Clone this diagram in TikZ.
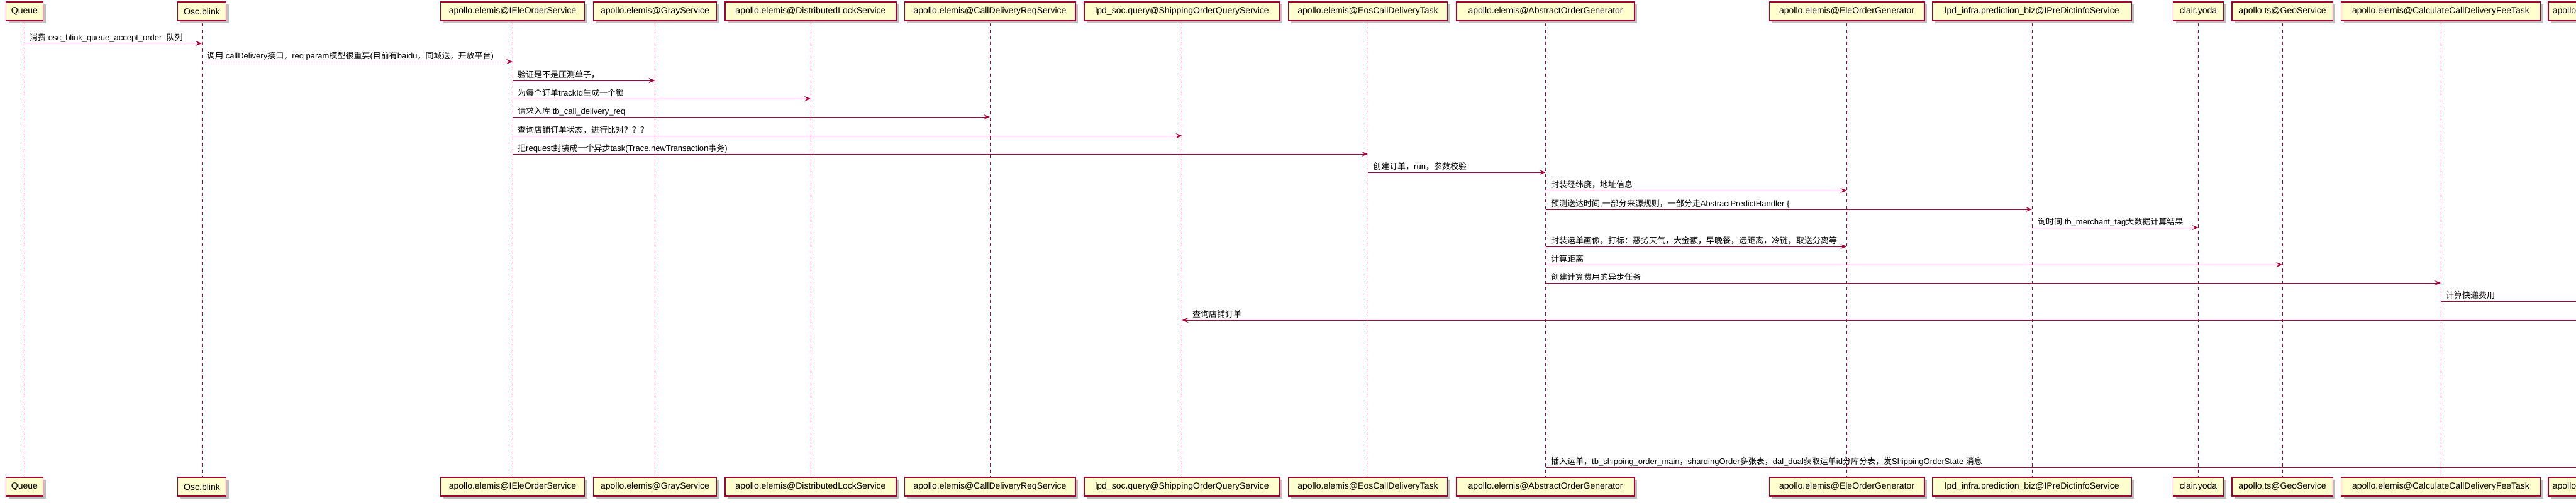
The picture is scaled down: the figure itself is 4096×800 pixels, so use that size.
\documentclass[tikz,border=0pt]{standalone}
\usepackage{fontspec}
\setmainfont{Liberation Sans}
\newfontfamily\cjkfam{Noto Sans CJK SC}
\newfontfamily\latfam{Liberation Sans}
\usetikzlibrary{arrows.meta,shadows}
\definecolor{pu}{HTML}{A80036}
\definecolor{pbox}{HTML}{FEFECE}
% automatic switch between Latin and CJK fonts
\XeTeXinterchartokenstate=1
\newXeTeXintercharclass\CJKcls
\count255="3000
\loop
  \XeTeXcharclass\count255=\CJKcls
  \ifnum\count255<"9FFF \advance\count255 by 1
\repeat
\count255="FF00
\loop
  \XeTeXcharclass\count255=\CJKcls
  \ifnum\count255<"FFEF \advance\count255 by 1
\repeat
\XeTeXinterchartoks 0 \CJKcls = {\cjkfam}
\XeTeXinterchartoks 4095 \CJKcls = {\cjkfam}
\XeTeXinterchartoks \CJKcls 0 = {\latfam}
\XeTeXinterchartoks \CJKcls 4095 = {\latfam}
\begin{document}
\begin{tikzpicture}[x=1pt,y=-1pt,
  part/.style={draw=pu, fill=pbox, line width=1.5pt, minimum height=30pt, inner sep=0pt,
    font=\fontsize{14}{16}\selectfont\latfam,
    drop shadow={shadow xshift=4pt, shadow yshift=-4pt, fill=black, opacity=0.25}},
  life/.style={draw=pu, line width=1pt, dash pattern=on 5pt off 5pt},
  msg/.style={draw=pu, line width=1pt, -{Stealth[length=10pt,width=8pt,inset=4pt]}},
  async/.style={msg, dash pattern=on 2pt off 2pt},
  lbl/.style={anchor=base west, inner sep=0pt, font=\fontsize{13}{15}\selectfont\latfam}]
\useasboundingbox (0,0) rectangle (4096,800);
\fill[white] (0,0) rectangle (4096,800);
\clip (0,0) rectangle (4096,800);
\coordinate (E) at (4400,0);
% participants (top)
\node[part, minimum width=59pt]    (q)    at (39,18)     {Queue};
\node[part, minimum width=77pt]    (osc)  at (321,18)    {Osc.blink};
\node[part, minimum width=229pt]   (ieos) at (815,18)    {apollo.elemis@IEleOrderService};
\node[part, minimum width=196pt]   (gray) at (1041.5,18) {apollo.elemis@GrayService};
\node[part, minimum width=272pt]   (dls)  at (1289,18)   {apollo.elemis@DistributedLockService};
\node[part, minimum width=271.5pt] (cdr)  at (1574,18)   {apollo.elemis@CallDeliveryReqService};
\node[part, minimum width=311pt]   (soq)  at (1879.5,18) {lpd\_soc.query@ShippingOrderQueryService};
\node[part, minimum width=253pt]   (eos)  at (2175,18)   {apollo.elemis@EosCallDeliveryTask};
\node[part, minimum width=283pt]   (aog)  at (2457.6,18) {apollo.elemis@AbstractOrderGenerator};
\node[part, minimum width=246.6pt] (eog)  at (2936.6,18) {apollo.elemis@EleOrderGenerator};
\node[part, minimum width=316.6pt] (pre)  at (3231,18)   {lpd\_infra.prediction\_biz@IPreDictinfoService};
\node[part, minimum width=80pt]    (yoda) at (3495.5,18) {clair.yoda};
\node[part, minimum width=160.5pt] (geo)  at (3629,18)   {apollo.ts@GeoService};
\node[part, minimum width=317pt]   (fee)  at (3881,18)   {apollo.elemis@CalculateCallDeliveryFeeTask};
\node[part, anchor=west, minimum width=250pt, text width=236pt, align=left] (ap) at (4051,18) {apollo};
% participants (bottom)
\node[part, minimum width=59pt]    (qb)    at (39,774)     {Queue};
\node[part, minimum width=77pt]    (oscb)  at (321,774)    {Osc.blink};
\node[part, minimum width=229pt]   (ieosb) at (815,774)    {apollo.elemis@IEleOrderService};
\node[part, minimum width=196pt]   (grayb) at (1041.5,774) {apollo.elemis@GrayService};
\node[part, minimum width=272pt]   (dlsb)  at (1289,774)   {apollo.elemis@DistributedLockService};
\node[part, minimum width=271.5pt] (cdrb)  at (1574,774)   {apollo.elemis@CallDeliveryReqService};
\node[part, minimum width=311pt]   (soqb)  at (1879.5,774) {lpd\_soc.query@ShippingOrderQueryService};
\node[part, minimum width=253pt]   (eosb)  at (2175,774)   {apollo.elemis@EosCallDeliveryTask};
\node[part, minimum width=283pt]   (aogb)  at (2457.6,774) {apollo.elemis@AbstractOrderGenerator};
\node[part, minimum width=246.6pt] (eogb)  at (2936.6,774) {apollo.elemis@EleOrderGenerator};
\node[part, minimum width=316.6pt] (preb)  at (3231,774)   {lpd\_infra.prediction\_biz@IPreDictinfoService};
\node[part, minimum width=80pt]    (yodab) at (3495.5,774) {clair.yoda};
\node[part, minimum width=160.5pt] (geob)  at (3629,774)   {apollo.ts@GeoService};
\node[part, minimum width=317pt]   (feeb)  at (3881,774)   {apollo.elemis@CalculateCallDeliveryFeeTask};
\node[part, anchor=west, minimum width=250pt, text width=236pt, align=left] (apb) at (4051,774) {apollo};
% lifelines
\foreach \a in {q,osc,ieos,gray,dls,cdr,soq,eos,aog,eog,pre,yoda,geo,fee}
  \draw[life] ([yshift=-3pt]\a.south) -- (\a b.north);
% messages
\draw[msg] (q |- 0,69) -- (osc |- 0,69);
\node[lbl] (t1) at (47,64) {消费 osc\_blink\_queue\_accept\_order\ \ 队列};
\draw[async] (osc |- 0,98) -- (ieos |- 0,98);
\node[lbl] (t2) at (329,93) {调用 callDelivery接口，req param模型很重要(目前有baidu，同城送，开放平台)};
\draw[msg] (ieos |- 0,128) -- (gray |- 0,128);
\node[lbl] (t3) at (823,123) {验证是不是压测单子，};
\draw[msg] (ieos |- 0,157) -- (dls |- 0,157);
\node[lbl] (t4) at (823,152) {为每个订单trackId生成一个锁};
\draw[msg] (ieos |- 0,186) -- (cdr |- 0,186);
\node[lbl] (t5) at (823,181) {请求入库 tb\_call\_delivery\_req};
\draw[msg] (ieos |- 0,216) -- (soq |- 0,216);
\node[lbl] (t6) at (823,211) {查询店铺订单状态，进行比对？？？};
\draw[msg] (ieos |- 0,245) -- (eos |- 0,245);
\node[lbl] (t7) at (823,240) {把request封装成一个异步task(Trace.newTransaction事务)};
\draw[msg] (eos |- 0,274) -- (aog |- 0,274);
\node[lbl] (t8) at (2183,269) {创建订单，run，参数校验};
\draw[msg] (aog |- 0,303) -- (eog |- 0,303);
\node[lbl] (t9) at (2466,298) {封装经纬度，地址信息};
\draw[msg] (aog |- 0,333) -- (pre |- 0,333);
\node[lbl] (t10) at (2466,328) {预测送达时间,一部分来源规则，一部分走AbstractPredictHandler \{};
\draw[msg] (pre |- 0,362) -- (yoda |- 0,362);
\node[lbl] (t11) at (3240,357) {询时间 tb\_merchant\_tag大数据计算结果};
\draw[msg] (aog |- 0,392) -- (eog |- 0,392);
\node[lbl] (t12) at (2466,387) {封装运单画像，打标：恶劣天气，大金额，早晚餐，远距离，冷链，取送分离等};
\draw[msg] (aog |- 0,421) -- (geo |- 0,421);
\node[lbl] (t13) at (2466,416) {计算距离};
\draw[msg] (aog |- 0,450) -- (fee |- 0,450);
\node[lbl] (t14) at (2466,445) {创建计算费用的异步任务};
\draw[msg] (fee |- 0,479) -- (E |- 0,479);
\node[lbl] (t15) at (3889,474) {计算快递费用};
\draw[msg] (E |- 0,509) -- (soq |- 0,509);
\node[lbl] (t16) at (1896,504) {查询店铺订单};
\draw[msg] (aog |- 0,743) -- (E |- 0,743);
\node[lbl] (t17) at (2466,738) {插入运单，tb\_shipping\_order\_main，shardingOrder多张表，dal\_dual获取运单id分库分表，发ShippingOrderState 消息};
\end{tikzpicture}
\end{document}
